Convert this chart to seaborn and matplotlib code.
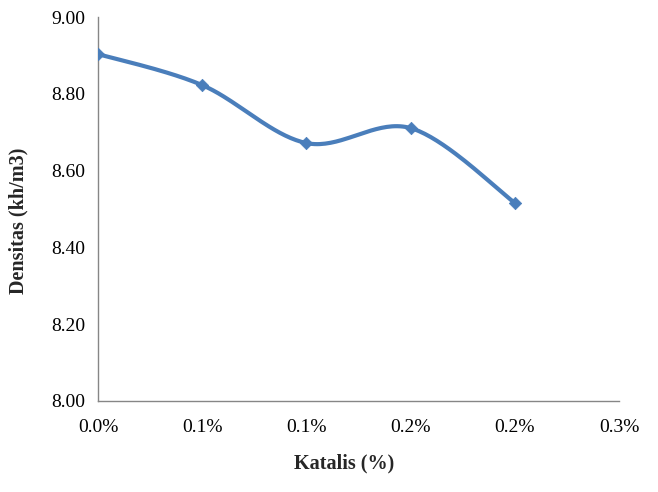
import numpy as np
import pandas as pd
import matplotlib
matplotlib.use("Agg")
import matplotlib.pyplot as plt
import seaborn as sns

# data
katalis = [0.0, 0.0005, 0.001, 0.0015, 0.002]   # fraction (shown as %)
densitas = [8.904, 8.823, 8.672, 8.711, 8.516]
x_ticks = [0.0, 0.0005, 0.001, 0.0015, 0.002, 0.0025]
x_tick_labels = ["0.0%", "0.1%", "0.1%", "0.2%", "0.2%", "0.3%"]
y_ticks = [8.0, 8.2, 8.4, 8.6, 8.8, 9.0]


def smooth_curve(xs, ys, n=40):
    # Excel style smoothed line: Catmull-Rom bezier segments
    p = np.column_stack([xs, ys])
    p = np.vstack([p[0], p, p[-1]])
    out = []
    for i in range(1, len(p) - 2):
        p0, p1, p2, p3 = p[i - 1], p[i], p[i + 1], p[i + 2]
        c1 = p1 + (p2 - p0) / 6
        c2 = p2 - (p3 - p1) / 6
        t = np.linspace(0, 1, n)[:, None]
        seg = (1 - t) ** 3 * p1 + 3 * (1 - t) ** 2 * t * c1 + 3 * (1 - t) * t ** 2 * c2 + t ** 3 * p2
        out.append(seg if i == 1 else seg[1:])
    out = np.vstack(out)
    return out[:, 0], out[:, 1]


sns.set_style("white")
plt.rcParams["font.family"] = ["Liberation Serif", "DejaVu Serif"]

fig = plt.figure(figsize=(6.58, 4.92), dpi=100)
ax = fig.add_axes([0.149, 0.185, 0.792, 0.780])

color = "#4A7EBB"
sx, sy = smooth_curve(katalis, densitas)
curve = pd.DataFrame({"x": sx, "y": sy})
pts = pd.DataFrame({"x": katalis, "y": densitas})
sns.lineplot(data=curve, x="x", y="y", ax=ax, color=color, linewidth=3, sort=False)
sns.scatterplot(data=pts, x="x", y="y", ax=ax, color=color, marker="D", s=40,
                edgecolor=color, zorder=3)

ax.set_xlim(x_ticks[0], x_ticks[-1])
ax.set_ylim(y_ticks[0], y_ticks[-1])
ax.set_xticks(x_ticks)
ax.set_xticklabels(x_tick_labels)
ax.set_yticks(y_ticks)
ax.set_yticklabels([f"{v:.2f}" for v in y_ticks])

for side in ["top", "right"]:
    ax.spines[side].set_visible(False)
for side in ["left", "bottom"]:
    ax.spines[side].set_color("#868686")
    ax.spines[side].set_linewidth(1)

ax.tick_params(axis="both", which="major", direction="out", length=5, width=1,
               color="#868686", labelsize=14, labelcolor="black", pad=8)
ax.tick_params(axis="y", pad=4)

ax.set_xlabel("Katalis (%)", fontsize=14.5, fontweight="bold", va="center")
ax.set_ylabel("Densitas (kh/m3)", fontsize=14.5, fontweight="bold", va="center")
ax.xaxis.set_label_coords(0.473, -0.164)
ax.yaxis.set_label_coords(-0.152, 0.469)

fig.savefig("out.png", dpi=100)
